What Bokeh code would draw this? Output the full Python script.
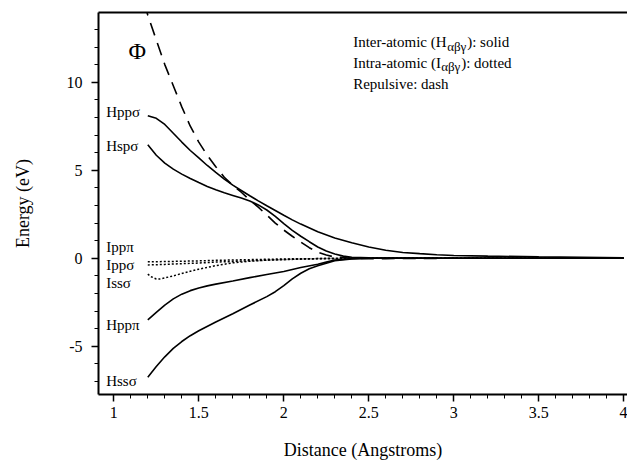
from bokeh.plotting import figure
from bokeh.models import Range1d, FixedTicker, CustomJSTickFormatter, LinearAxis, ColumnDataSource
from bokeh.core.properties import value
from bokeh.embed import file_html
from bokeh.resources import INLINE

# ---------------- data ----------------
x_hpps = [1.2, 1.25, 1.3, 1.35, 1.4, 1.45, 1.5, 1.55, 1.6, 1.65, 1.7, 1.75, 1.8, 1.85, 1.9, 1.95,
          2.0, 2.05, 2.1, 2.2, 2.3, 2.4, 2.5, 2.6, 2.7, 2.8, 2.9, 3.0, 3.2, 3.5, 4.0]
y_hpps = [8.1, 7.95, 7.6, 7.1, 6.6, 6.12, 5.7, 5.27, 4.88, 4.5, 4.15, 3.85, 3.55, 3.26, 2.98, 2.71,
          2.44, 2.18, 1.94, 1.5, 1.15, 0.88, 0.64, 0.45, 0.33, 0.26, 0.2, 0.16, 0.12, 0.08, 0.03]

x_hsps = [1.2, 1.25, 1.3, 1.35, 1.4, 1.45, 1.5, 1.55, 1.6, 1.65, 1.7, 1.75, 1.8, 1.85, 1.9, 1.95,
          2.0, 2.05, 2.1, 2.15, 2.2, 2.25, 2.3, 2.35, 2.4, 2.5, 3.0, 4.0]
y_hsps = [6.45, 5.85, 5.4, 5.06, 4.78, 4.53, 4.3, 4.08, 3.89, 3.72, 3.57, 3.42, 3.25, 3.03, 2.74, 2.38,
          1.97, 1.58, 1.25, 0.94, 0.64, 0.41, 0.24, 0.12, 0.06, 0.02, 0.0, 0.0]

x_hppp = [1.2, 1.25, 1.3, 1.35, 1.4, 1.45, 1.5, 1.55, 1.6, 1.7, 1.8, 1.9, 2.0, 2.1, 2.2, 2.25, 2.3,
          2.4, 2.5, 3.0, 4.0]
y_hppp = [-3.5, -3.07, -2.66, -2.31, -2.04, -1.84, -1.69, -1.57, -1.47, -1.29, -1.1, -0.92, -0.75, -0.53,
          -0.34, -0.22, -0.1, -0.03, 0.0, 0.0, 0.0]

x_hsss = [1.2, 1.25, 1.3, 1.35, 1.4, 1.45, 1.5, 1.6, 1.7, 1.8, 1.9, 1.95, 2.0, 2.05, 2.1, 2.15, 2.2,
          2.25, 2.3, 2.4, 2.5, 3.0, 4.0]
y_hsss = [-6.76, -6.15, -5.6, -5.12, -4.73, -4.4, -4.12, -3.62, -3.15, -2.66, -2.18, -1.9, -1.55, -1.17,
          -0.85, -0.6, -0.43, -0.28, -0.14, -0.04, 0.0, 0.0, 0.0]

x_ipp = [1.2, 1.3, 1.4, 1.5, 1.6, 1.7, 1.8, 1.9, 2.0, 2.1, 2.2, 2.3, 2.5, 3.0, 4.0]
y_ippp = [-0.2, -0.19, -0.17, -0.15, -0.12, -0.1, -0.08, -0.06, -0.04, -0.03, -0.02, -0.01, 0.0, 0.0, 0.0]
y_ipps = [-0.38, -0.35, -0.31, -0.27, -0.22, -0.18, -0.14, -0.11, -0.08, -0.05, -0.03, -0.01, 0.0, 0.0, 0.0]

x_isss = [1.2, 1.22, 1.25, 1.27, 1.3, 1.35, 1.4, 1.45, 1.5, 1.6, 1.7, 1.8, 1.9, 2.0, 2.1, 2.2, 2.3, 2.5, 3.0, 4.0]
y_isss = [-0.9, -1.05, -1.18, -1.18, -1.12, -1.0, -0.87, -0.74, -0.62, -0.42, -0.26, -0.17, -0.11, -0.07,
          -0.04, -0.02, -0.01, 0.0, 0.0, 0.0]

x_phi = [1.18, 1.2, 1.25, 1.3, 1.35, 1.4, 1.45, 1.5, 1.55, 1.6, 1.65, 1.7, 1.75, 1.8, 1.85, 1.9, 1.95,
         2.0, 2.05, 2.1, 2.15, 2.2, 2.25, 2.3, 2.4, 2.5, 2.6, 3.0, 4.0]
y_phi = [14.5, 13.8, 12.4, 11.0, 9.8, 8.6, 7.5, 6.6, 5.85, 5.2, 4.6, 4.15, 3.75, 3.3, 2.9, 2.45, 2.0,
         1.6, 1.25, 0.92, 0.6, 0.35, 0.18, 0.07, 0.0, -0.03, -0.02, 0.0, 0.0]

curve_labels = ["Hpp\u03c3", "Hsp\u03c3", "Ipp\u03c0", "Ipp\u03c3", "Iss\u03c3", "Hpp\u03c0", "Hss\u03c3"]
curve_label_y = [8.3, 6.35, 0.66, -0.41, -1.38, -3.82, -7.0]

x_ticks = [1, 1.5, 2, 2.5, 3, 3.5, 4]
x_minor = [round(0.9 + 0.1 * i, 1) for i in range(33)]
y_ticks = [-5, 0, 5, 10]
y_minor = list(range(-7, 14))

FONT = "Liberation Serif"

p = figure(width=627, height=463, output_backend="svg", toolbar_location=None,
           x_range=Range1d(0.91, 4.022), y_range=Range1d(-7.74, 13.96),
           min_border_left=98, min_border_right=0, min_border_top=12, min_border_bottom=69)
p.xgrid.grid_line_color = None
p.ygrid.grid_line_color = None
p.outline_line_color = None
p.background_fill_color = "white"
p.border_fill_color = "white"

# axes
xa = p.xaxis[0]
xa.ticker = FixedTicker(ticks=x_ticks, minor_ticks=x_minor)
xa.formatter = CustomJSTickFormatter(code="return String(tick);")
xa.axis_label = "Distance (Angstroms)"
ya = p.yaxis[0]
ya.ticker = FixedTicker(ticks=y_ticks, minor_ticks=y_minor)
ya.formatter = CustomJSTickFormatter(code="return String(tick);")
ya.axis_label = "Energy (eV)"
for ax in (xa, ya):
    ax.axis_line_width = 2
    ax.axis_line_color = "black"
    ax.major_tick_line_color = "black"
    ax.minor_tick_line_color = "black"
    ax.major_tick_line_width = 1.5
    ax.minor_tick_line_width = 1
    ax.major_tick_in = 0
    ax.minor_tick_in = 0
    ax.major_tick_out = 7
    ax.minor_tick_out = 4
    ax.major_label_text_font = FONT
    ax.major_label_text_font_size = "16px"
    ax.major_label_text_color = "black"
    ax.axis_label_text_font = FONT
    ax.axis_label_text_font_size = "18px"
    ax.axis_label_text_font_style = "normal"
    ax.axis_label_text_color = "black"
xa.major_label_standoff = 5
xa.axis_label_standoff = 19
ya.major_label_standoff = 9
ya.axis_label_standoff = 31

top = LinearAxis(ticker=FixedTicker(ticks=[]), major_label_text_font_size="0px",
                 axis_line_width=2, major_tick_out=0, minor_tick_out=0,
                 major_label_standoff=0)
p.add_layout(top, "above")

# curves
solid = dict(line_color="black", line_width=1.6)
p.line(x_hpps, y_hpps, **solid)
p.line(x_hsps, y_hsps, **solid)
p.line(x_hppp, y_hppp, **solid)
p.line(x_hsss, y_hsss, **solid)
dotted = dict(line_color="black", line_width=1.5, line_dash="2 2")
p.line(x_ipp, y_ippp, **dotted)
p.line(x_ipp, y_ipps, **dotted)
p.line(x_isss, y_isss, **dotted)
p.line(x_phi, y_phi, line_color="black", line_width=1.6, line_dash="13 8")

# curve labels
src = ColumnDataSource(dict(x=[0.955] * len(curve_labels), y=curve_label_y, t=curve_labels))
p.text(x="x", y="y", text="t", source=src, text_font=value(FONT), text_font_size=value("15px"),
       text_baseline="middle", text_align="left", text_color="black")
p.text(x=[1.138], y=[11.8], text=["\u03a6"], text_font=value(FONT), text_font_size=value("24px"),
       text_baseline="middle", text_align="center", text_color="black")

# legend notes
lx = 2.408
rows_y = [12.27, 11.1, 9.91]
def note(y, s, off, size="15px", dy=0):
    p.text(x=[lx], y=[y], text=[s], x_offset=off, y_offset=dy, text_font=value(FONT),
           text_font_size=value(size), text_baseline="middle", text_align="left", text_color="black")

note(rows_y[0], "Inter-atomic (H", 0)
note(rows_y[0], "\u03b1\u03b2\u03b3", 94, "13px", 4)
note(rows_y[0], "): solid", 114)
note(rows_y[1], "Intra-atomic (I", 0)
note(rows_y[1], "\u03b1\u03b2\u03b3", 88, "13px", 4)
note(rows_y[1], "): dotted", 108)
note(rows_y[2], "Repulsive: dash", 0)

open("out.html", "w").write(file_html(p, INLINE))
